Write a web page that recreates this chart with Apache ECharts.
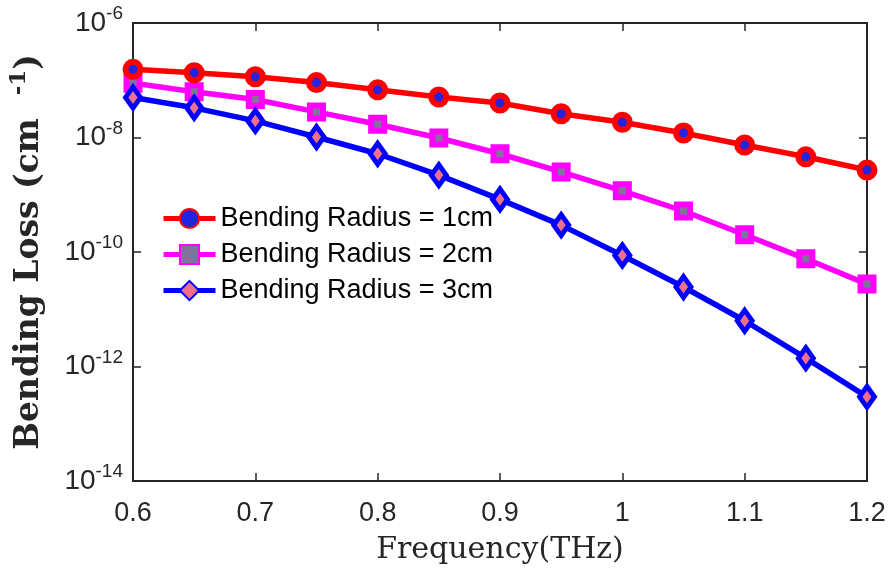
<!DOCTYPE html>
<html><head><meta charset="utf-8">
<script src="https://cdn.jsdelivr.net/npm/echarts@6/dist/echarts.min.js"></script>
<style>html,body{margin:0;padding:0;background:#fff}#c{width:889px;height:571px}</style>
</head><body><div id="c"></div>
<script>
const frequency = [0.6, 0.65, 0.7, 0.75, 0.8, 0.85, 0.9, 0.95, 1.0, 1.05, 1.1, 1.15, 1.2];
const radius1cm = [1.55e-7, 1.35e-7, 1.15e-7, 9.1e-8, 6.8e-8, 5.1e-8, 4.0e-8, 2.6e-8, 1.85e-8, 1.2e-8, 7.4e-9, 4.6e-9, 2.7e-9];
const radius2cm = [8.9e-8, 6.3e-8, 4.6e-8, 2.8e-8, 1.7e-8, 9.8e-9, 5.2e-9, 2.5e-9, 1.17e-9, 5.2e-10, 2.0e-10, 7.6e-11, 2.75e-11];
const radius3cm = [5.0e-8, 3.3e-8, 1.95e-8, 1.02e-8, 5.2e-9, 2.2e-9, 8.3e-10, 2.95e-10, 8.7e-11, 2.45e-11, 6.3e-12, 1.4e-12, 2.95e-13];
const seriesNames = ['Bending Radius = 1cm', 'Bending Radius = 2cm', 'Bending Radius = 3cm'];
const xTicks = [0.6, 0.7, 0.8, 0.9, 1.0, 1.1, 1.2];
const yExponents = [-14, -12, -10, -8, -6];

const toPairs = arr => frequency.map((f, i) => [f, Math.log10(arr[i])]);
const axisCol = '#262626';
const tickFont = 'Liberation Sans, Arial, sans-serif';
const serifFont = 'DejaVu Serif, serif';

const chart = echarts.init(document.getElementById('c'), null, {renderer: 'canvas'});
const baseX = {
  type: 'value', min: xTicks[0], max: xTicks[xTicks.length - 1], interval: 0.1,
  axisLine: {show: true, onZero: false, lineStyle: {color: axisCol, width: 2}},
  axisTick: {show: true, inside: true, length: 8, lineStyle: {color: axisCol, width: 1.5}},
  splitLine: {show: false}
};
const baseY = {
  type: 'value', min: yExponents[0], max: yExponents[yExponents.length - 1], interval: 2,
  axisLine: {show: true, onZero: false, lineStyle: {color: axisCol, width: 2}},
  axisTick: {show: true, inside: true, length: 8, lineStyle: {color: axisCol, width: 1.5}},
  splitLine: {show: false}
};
chart.setOption({
  animation: false,
  backgroundColor: '#fff',
  grid: {left: 133, right: 22, top: 23, bottom: 90, containLabel: false, outerBoundsMode: 'none'},
  legend: {
    orient: 'vertical', left: 156, top: 200, itemWidth: 52, itemHeight: 24, itemGap: 9,
    lineStyle: {width: 5},
    textStyle: {fontFamily: tickFont, fontSize: 27, color: '#000'},
    data: seriesNames
  },
  xAxis: [
    Object.assign({}, baseX, {
      position: 'bottom',
      name: 'Frequency(THz)', nameLocation: 'middle', nameGap: 54,
      nameTextStyle: {fontFamily: serifFont, fontSize: 30, color: axisCol},
      axisLabel: {show: true, margin: 19, fontFamily: tickFont, fontSize: 27, color: axisCol,
        formatter: v => String(+v.toFixed(2))}
    }),
    Object.assign({}, baseX, {position: 'top', axisLabel: {show: false}})
  ],
  yAxis: [
    Object.assign({}, baseY, {
      position: 'left',
      name: 'Bending Loss (cm  {s|-1})', nameLocation: 'middle', nameGap: 82, nameRotate: 90,
      nameTextStyle: {fontFamily: serifFont, fontSize: 33, fontWeight: 'bold', color: axisCol,
        rich: {s: {fontFamily: serifFont, fontSize: 23, fontWeight: 'bold', color: axisCol, padding: [0, 0, 20, 0]}}},
      axisLabel: {show: true, margin: 10, color: axisCol,
        formatter: v => '{b|10}{s|' + v + '}',
        rich: {
          b: {fontFamily: tickFont, fontSize: 28, color: axisCol},
          s: {fontFamily: tickFont, fontSize: 19, color: axisCol, padding: [0, 0, 18, 0]}
        }}
    }),
    Object.assign({}, baseY, {position: 'right', axisLabel: {show: false}})
  ],
  series: [
    {
      name: seriesNames[0], type: 'line', data: toPairs(radius1cm),
      lineStyle: {color: '#ff0000', width: 5.5},
      symbol: 'circle', symbolSize: 15,
      itemStyle: {color: '#2424e0', borderColor: '#ff0000', borderWidth: 6},
      z: 3
    },
    {
      name: seriesNames[1], type: 'line', data: toPairs(radius2cm),
      lineStyle: {color: '#ff00ff', width: 5.5},
      symbol: 'rect', symbolSize: 13,
      itemStyle: {color: '#80749a', borderColor: '#ff00ff', borderWidth: 6},
      z: 2
    },
    {
      name: seriesNames[2], type: 'line', data: toPairs(radius3cm),
      lineStyle: {color: '#0000ff', width: 5.5},
      symbol: 'diamond', symbolSize: [15, 21],
      itemStyle: {color: '#f0708c', borderColor: '#0000ff', borderWidth: 5},
      z: 4
    }
  ]
});
</script></body></html>
